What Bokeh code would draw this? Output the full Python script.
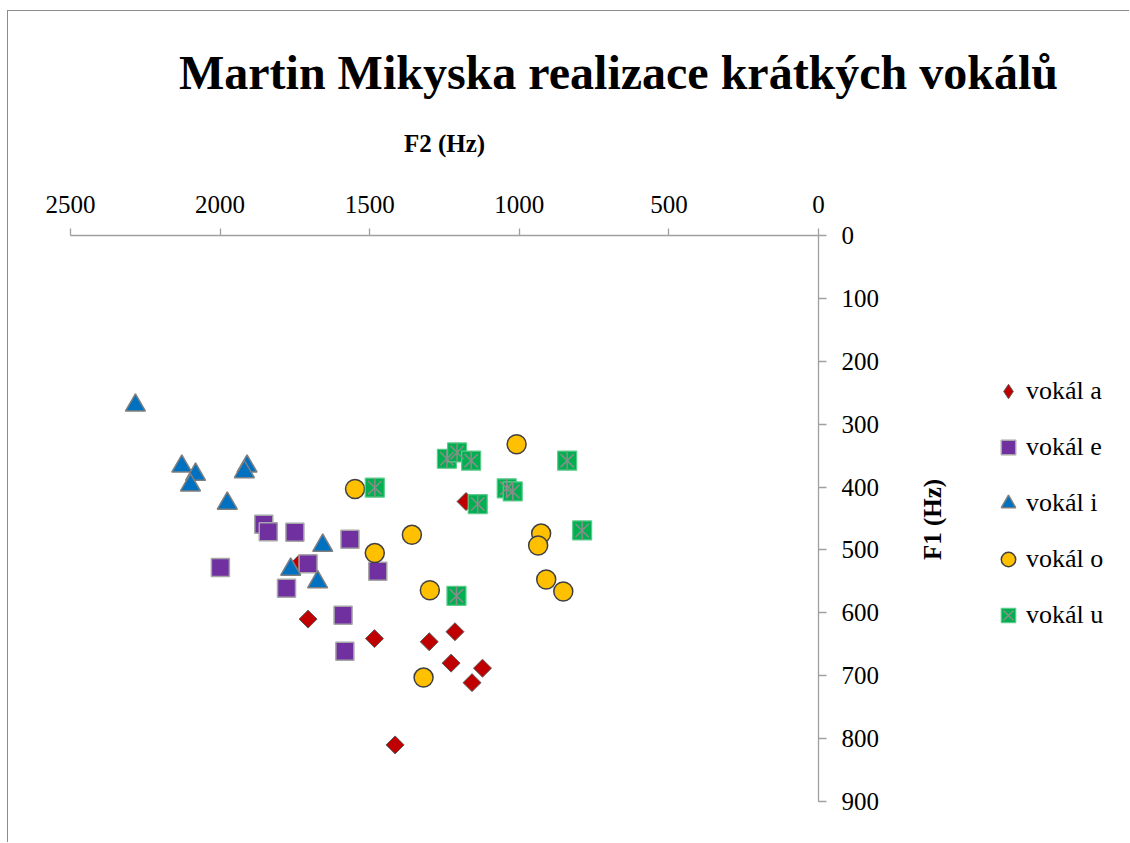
import numpy as np
from bokeh.plotting import figure
from bokeh.models import (Range1d, FixedTicker, Legend, LegendItem, ColumnDataSource,
                          LinearAxis, Label)
from bokeh.embed import file_html
from bokeh.resources import INLINE

# ---------------- data ----------------
title_text = "Martin Mikyska realizace krátkých vokálů"
x_title = "F2 (Hz)"
y_title = "F1 (Hz)"
x_ticks = [0, 500, 1000, 1500, 2000, 2500]
y_ticks = [0, 100, 200, 300, 400, 500, 600, 700, 800, 900]
series_names = ["vokál a", "vokál e", "vokál i", "vokál o", "vokál u"]

a_f2 = [1706, 1484, 1301, 1215, 1228, 1123, 1158, 1415, 1178, 1734]
a_f1 = [610, 641, 646, 630, 680, 688, 711, 810, 423, 521]

e_f2 = [1854, 1839, 1750, 1566, 1706, 1999, 1778, 1473, 1589, 1583]
e_f1 = [459, 471, 472, 483, 522, 528, 561, 534, 604, 661]

i_f2 = [2283, 2128, 2082, 2099, 1910, 1919, 1976, 1657, 1764, 1674]
i_f1 = [270, 367, 380, 397, 367, 376, 426, 493, 531, 551]

o_f2 = [1549, 1359, 1483, 1299, 1320, 1009, 927, 937, 910, 853]
o_f1 = [403, 476, 505, 564, 703, 332, 474, 493, 547, 566]

u_f2 = [1242, 1208, 1161, 840, 1042, 1022, 1139, 790, 1210, 1483]
u_f1 = [355, 345, 358, 358, 402, 407, 427, 469, 573, 401]

# ---------------- geometry (page pixels) ----------------
FONT = "Liberation Serif"
W, H = 1121, 831                 # canvas; it sits at page (8, 11)
OX, OY = 8, 11
AX_L, AX_R = 70, 818             # x axis: 2500 Hz .. 0 Hz
AX_T, AX_B = 235, 801            # y axis: 0 Hz .. 900 Hz
PX_X = (AX_R - AX_L) / 2500.0
PX_Y = (AX_B - AX_T) / 900.0


def f2_at(px):                   # page x -> F2 value
    return (AX_R - px) / PX_X


def f1_at(py):                   # page y -> F1 value
    return (py - AX_T) / PX_Y


p = figure(frame_width=W, frame_height=H, output_backend="svg", toolbar_location=None,
           title=None,
           x_range=Range1d(f2_at(OX), f2_at(OX + W)),
           y_range=Range1d(f1_at(OY + H), f1_at(OY)),
           x_axis_location=None, y_axis_location=None,
           min_border_left=0, min_border_right=0, min_border_top=0, min_border_bottom=0,
           background_fill_color="white", border_fill_color="white",
           styles={"margin-left": "7px", "margin-top": "10px",
                   "border-left": "1px solid #8c8c8c", "border-top": "1px solid #8c8c8c"})
p.outline_line_color = None
p.grid.visible = False

axis_col = "#A0A0A0"
xaxis = LinearAxis(ticker=FixedTicker(ticks=x_ticks), bounds=(0, 2500), fixed_location=0)
yaxis = LinearAxis(ticker=FixedTicker(ticks=y_ticks), bounds=(0, 900), fixed_location=0)
for ax in (xaxis, yaxis):
    ax.axis_line_color = axis_col
    ax.axis_line_width = 1.3
    ax.major_tick_line_color = axis_col
    ax.major_tick_line_width = 1.3
    ax.major_tick_in = 0
    ax.minor_tick_line_color = None
    ax.major_label_text_font = FONT
    ax.major_label_text_font_size = "25px"
    ax.major_label_text_color = "black"
xaxis.major_tick_out = 7
xaxis.major_label_standoff = 16
yaxis.major_tick_out = 8
yaxis.major_label_standoff = 15
p.add_layout(xaxis, "above")
p.add_layout(yaxis, "right")

# title and axis titles
p.add_layout(Label(x=f2_at(618), y=f1_at(72), text=title_text, text_font=FONT,
                   text_font_size="48px", text_font_style="bold", text_color="black",
                   text_align="center", text_baseline="middle"))
p.add_layout(Label(x=1250, y=f1_at(143), text=x_title, text_font=FONT,
                   text_font_size="25px", text_font_style="bold", text_color="black",
                   text_align="center", text_baseline="middle"))
p.add_layout(Label(x=f2_at(932), y=f1_at(519), text=y_title, text_font=FONT, angle=np.pi / 2,
                   text_font_size="25px", text_font_style="bold", text_color="black",
                   text_align="center", text_baseline="middle"))

# ---------------- series ----------------
src_a = ColumnDataSource(dict(x=a_f2, y=a_f1))
src_e = ColumnDataSource(dict(x=e_f2, y=e_f1))
src_i = ColumnDataSource(dict(x=i_f2, y=i_f1))
src_o = ColumnDataSource(dict(x=o_f2, y=o_f1))
src_u = ColumnDataSource(dict(x=u_f2, y=u_f1))

sty_a = dict(fill_color="#C00000", line_color="#595959", line_width=1)
sty_e = dict(fill_color="#7030A0", line_color="#A6A6A6", line_width=1.5)
sty_i = dict(fill_color="#0070C0", line_color="#7F7F7F", line_width=1.5)
sty_o = dict(fill_color="#FFC000", line_color="#404040", line_width=1.5)
sty_u = dict(fill_color="#00B050", line_color="#5CCB8C", line_width=1.2)
sty_ux = dict(line_color="#8C8C8C", line_width=1.5)

# diamond swatch for the legend (hidden under the rotated squares in the plot)
leg_a = p.scatter("x", "y", source=src_a, marker="diamond", size=11, **sty_a)
r_a = p.scatter("x", "y", source=src_a, marker="square", angle=np.pi / 4, size=12.7, **sty_a)
r_e = p.scatter("x", "y", source=src_e, marker="square", size=18, **sty_e)
r_i = p.scatter("x", "y", source=src_i, marker="triangle", size=20, **sty_i)
r_o = p.scatter("x", "y", source=src_o, marker="circle", size=19, **sty_o)
r_u1 = p.scatter("x", "y", source=src_u, marker="square", size=19, **sty_u)
r_u2 = p.scatter("x", "y", source=src_u, marker="x", size=19, **sty_ux)
r_u3 = p.scatter("x", "y", source=src_u, marker="dash", angle=np.pi / 2, size=19, **sty_ux)

renderer_groups = [[leg_a], [r_e], [r_i], [r_o], [r_u1, r_u2]]
legend = Legend(items=[LegendItem(label=n, renderers=g) for n, g in zip(series_names, renderer_groups)],
                location=(990 - OX, OY + H - 633), orientation="vertical",
                glyph_width=36, glyph_height=36, label_standoff=0, spacing=20,
                padding=0, margin=0, border_line_color=None, background_fill_alpha=0,
                label_text_font=FONT, label_text_font_size="26px", label_text_color="black")
p.add_layout(legend, "center")

open("out.html", "w").write(file_html(p, INLINE))
